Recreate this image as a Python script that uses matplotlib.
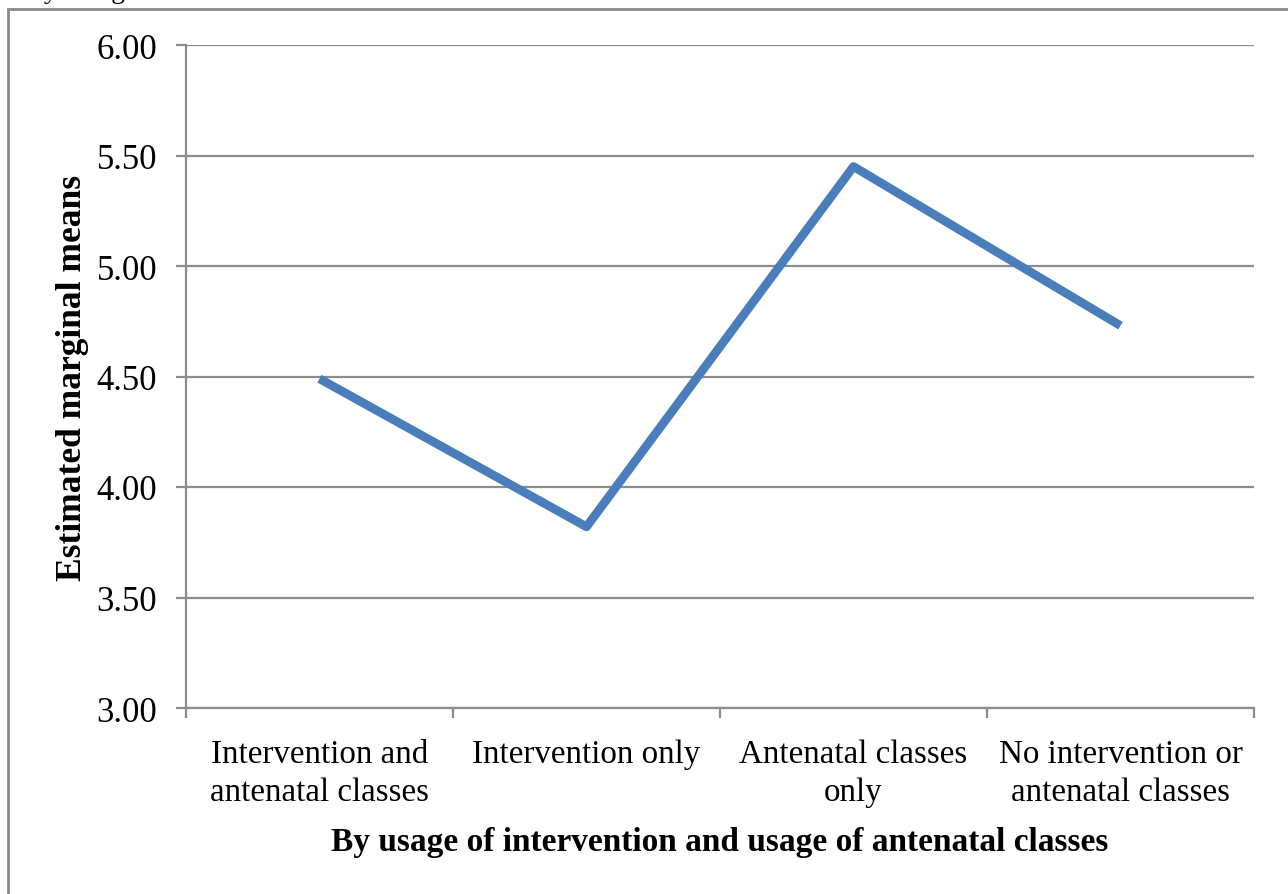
import matplotlib.pyplot as plt
import matplotlib
from matplotlib.patches import Rectangle

matplotlib.rcParams['font.family'] = ['Liberation Serif', 'DejaVu Serif']

# data
categories = ["Intervention and\nantenatal classes", "Intervention only",
              "Antenatal classes\nonly", "No intervention or\nantenatal classes"]
means = [4.49, 3.82, 5.45, 4.73]
yticks = [3.00, 3.50, 4.00, 4.50, 5.00, 5.50, 6.00]

LINE = "#4A7EBB"
GRID = "#8C8C8C"

W, H = 1288, 895
fig = plt.figure(figsize=(W / 100, H / 100), dpi=100, facecolor="white")
ax = fig.add_axes([186 / W, 1 - 709 / H, (1254 - 186) / W, (709 - 46) / H])

x = list(range(len(categories)))
ax.plot(x, means, color=LINE, linewidth=6.3, solid_joinstyle='round',
        solid_capstyle='butt', zorder=3)

ax.set_xlim(-0.5, len(categories) - 0.5)
ax.set_ylim(3.0, 6.0)
ax.set_yticks(yticks)
ax.set_yticklabels([f"{v:.2f}" for v in yticks], fontsize=25)
ax.yaxis.grid(True, color=GRID, linewidth=1.6)
ax.set_axisbelow(True)

# category boundaries as ticks
ax.set_xticks([i - 0.5 for i in range(len(categories) + 1)])
ax.set_xticklabels([])
ax.set_xticks(x, minor=True)
ax.set_xticklabels(categories, minor=True, fontsize=23.8, linespacing=1.33)
ax.tick_params(axis='x', which='minor', length=0, pad=22)
ax.tick_params(axis='x', which='major', length=7.2, direction='out',
               color=GRID, width=1.6)
ax.tick_params(axis='y', length=7.2, direction='out', color=GRID, width=1.6,
               pad=13.5)

for s in ['top', 'right']:
    ax.spines[s].set_visible(False)
for s in ['left', 'bottom']:
    ax.spines[s].set_color(GRID)
    ax.spines[s].set_linewidth(1.6)

ax.set_ylabel("Estimated marginal means", fontsize=25.5, fontweight='bold')
ax.yaxis.set_label_coords(-0.091, 0.5)
ax.set_xlabel("By usage of intervention and usage of antenatal classes",
              fontsize=24, fontweight='bold', labelpad=13.5)

# outer frame (partly cut off) and clipped caption text above
fig.patches.append(Rectangle((8 / W, -0.1), 1.2, 1 - 10 / H + 0.1,
                             transform=fig.transFigure, fill=False,
                             edgecolor="#8A8A8A", linewidth=2))
fig.text(30 / W, 1 + 2 / H, "by using", fontsize=20, va='baseline')

fig.savefig("out.png", dpi=100, facecolor="white")
